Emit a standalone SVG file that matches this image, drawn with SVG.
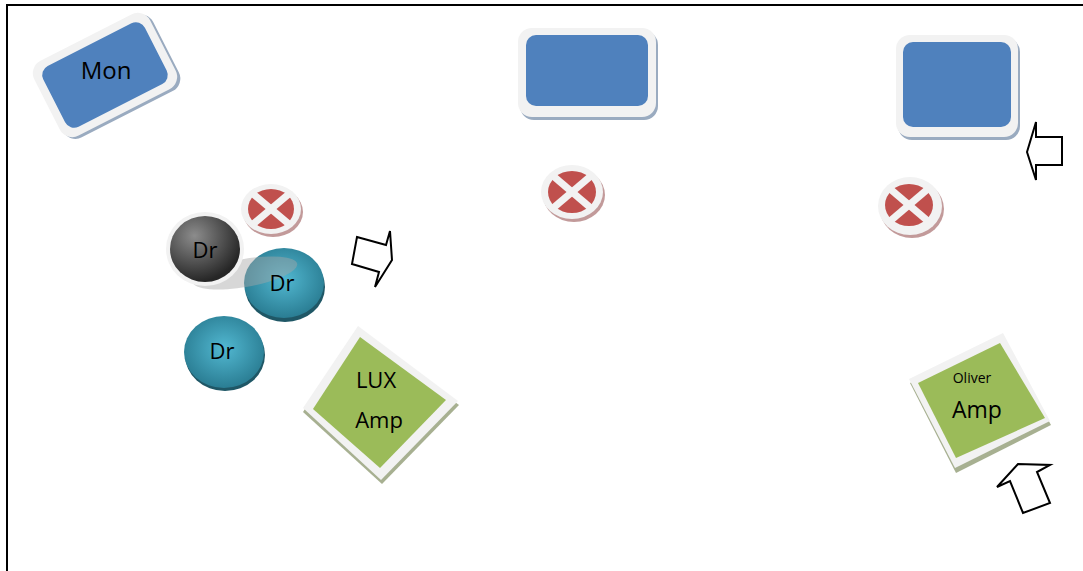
<svg xmlns="http://www.w3.org/2000/svg" width="1083" height="571" viewBox="0 0 1083 571">
<style>
.frame{fill:#f2f2f2}
.blue{fill:#4f81bd}
.bshadow{fill:#9aabc0}
.green{fill:#9bbb59}
.gshadow{fill:#a7b091}
.red{fill:#c0504d}
.rshadow{fill:#c29a9a}
.cross{stroke:#f2f2f2;stroke-width:7}
.arrow{fill:#ffffff;stroke:#000000;stroke-width:2;stroke-linejoin:miter}
.lbl{font-family:"Open Sans","Liberation Sans",sans-serif;fill:#000000;text-anchor:middle}
</style>
<defs>
<radialGradient id="teal" cx="50%" cy="45%" r="55%">
<stop offset="0" stop-color="#52b8d1"/>
<stop offset="1" stop-color="#2a7d93"/>
</radialGradient>
<radialGradient id="gray" cx="35%" cy="30%" r="70%">
<stop offset="0" stop-color="#8c8c8c"/>
<stop offset="1" stop-color="#262626"/>
</radialGradient>
</defs>
<rect width="1083" height="571" fill="#ffffff"/>
<g id="border">
<path d="M7,571 V5 H1083" fill="none" stroke="#000000" stroke-width="2"/>
</g>

<g id="mon" transform="rotate(-27 105 75)">
<rect class="bshadow" x="42" y="36" width="130" height="84" rx="14"/>
<rect class="frame" x="40" y="33" width="130" height="84" rx="14"/>
<rect class="blue" x="48" y="41" width="114" height="68" rx="10"/>
</g>
<text class="lbl" x="106" y="79" font-size="24">Mon</text>

<g id="monitor2">
<rect class="bshadow" x="520" y="31" width="138" height="89" rx="14"/>
<rect class="frame" x="518" y="28" width="138" height="89" rx="14"/>
<rect class="blue" x="526" y="35" width="122" height="71" rx="10"/>
</g>

<g id="monitor3">
<rect class="bshadow" x="898" y="38" width="122" height="102" rx="14"/>
<rect class="frame" x="896" y="35" width="122" height="102" rx="14"/>
<rect class="blue" x="903" y="42" width="108" height="85" rx="10"/>
</g>

<g id="x1">
<ellipse class="rshadow" cx="273" cy="212" rx="30" ry="25"/>
<ellipse class="frame" cx="271" cy="209" rx="30" ry="25"/>
<ellipse class="red" cx="271" cy="209" rx="23" ry="20"/>
<line class="cross" x1="252" y1="193" x2="290" y2="225"/>
<line class="cross" x1="290" y1="193" x2="252" y2="225"/>
</g>

<g id="x2">
<ellipse class="rshadow" cx="574" cy="195" rx="31" ry="27"/>
<ellipse class="frame" cx="572" cy="192" rx="31" ry="27"/>
<ellipse class="red" cx="572" cy="192" rx="24" ry="21"/>
<line class="cross" x1="552" y1="175" x2="592" y2="209"/>
<line class="cross" x1="592" y1="175" x2="552" y2="209"/>
</g>

<g id="x3">
<ellipse class="rshadow" cx="912" cy="209" rx="32" ry="29"/>
<ellipse class="frame" cx="910" cy="206" rx="32" ry="29"/>
<ellipse class="red" cx="909" cy="205" rx="24" ry="21"/>
<line class="cross" x1="889" y1="188" x2="929" y2="222"/>
<line class="cross" x1="929" y1="188" x2="889" y2="222"/>
</g>

<g id="drum3">
<ellipse cx="225" cy="355" rx="40" ry="36" fill="#1f5766"/>
<ellipse cx="224" cy="352" rx="40" ry="36" fill="url(#teal)"/>
<text class="lbl" x="222" y="359" font-size="22">Dr</text>
</g>

<g id="drum2">
<ellipse cx="285" cy="287" rx="40" ry="35" fill="#1f5766"/>
<ellipse cx="284" cy="283" rx="40" ry="35" fill="url(#teal)"/>
<ellipse cx="245" cy="273" rx="53" ry="14" transform="rotate(-10 245 273)" fill="#a6a6a6" opacity="0.45"/>
<text class="lbl" x="282" y="291" font-size="22">Dr</text>
</g>

<g id="drum1">
<ellipse class="frame" cx="205" cy="249" rx="39" ry="37"/>
<ellipse cx="205" cy="249" rx="35" ry="33" fill="url(#gray)"/>
<text class="lbl" x="205" y="258" font-size="22">Dr</text>
</g>

<g id="luxamp">
<polygon class="gshadow" points="358,330 459,405 382,484 303,412"/>
<polygon class="frame" points="358,326 458,401 381,480 303,408"/>
<polygon class="green" points="360,337 446,400 380,468 313,409"/>
<text class="lbl" x="376" y="388" font-size="22">LUX</text>
<text class="lbl" x="379" y="428" font-size="22">Amp</text>
</g>

<g id="oliveramp">
<polygon class="gshadow" points="910,383 1004,337 1051,425 956,473"/>
<polygon class="frame" points="909,379 1003,333 1050,421 955,468"/>
<polygon class="green" points="918,383 1000,343 1045,418 956,458"/>
<text class="lbl" x="972" y="383" font-size="14">Oliver</text>
<text class="lbl" x="977" y="418" font-size="23">Amp</text>
</g>

<g id="connectors">
<polygon class="arrow" points="357,237 386,245 390,231 392,260 375,287 379,272 352,264"/>
<polygon class="arrow" points="1027,152 1036,122 1036,137 1062,137 1062,165 1036,165 1036,180"/>
<polygon class="arrow" points="997,487 1018,464 1050,465 1037,472 1050,503 1023,513 1010,481"/>
</g>
</svg>
